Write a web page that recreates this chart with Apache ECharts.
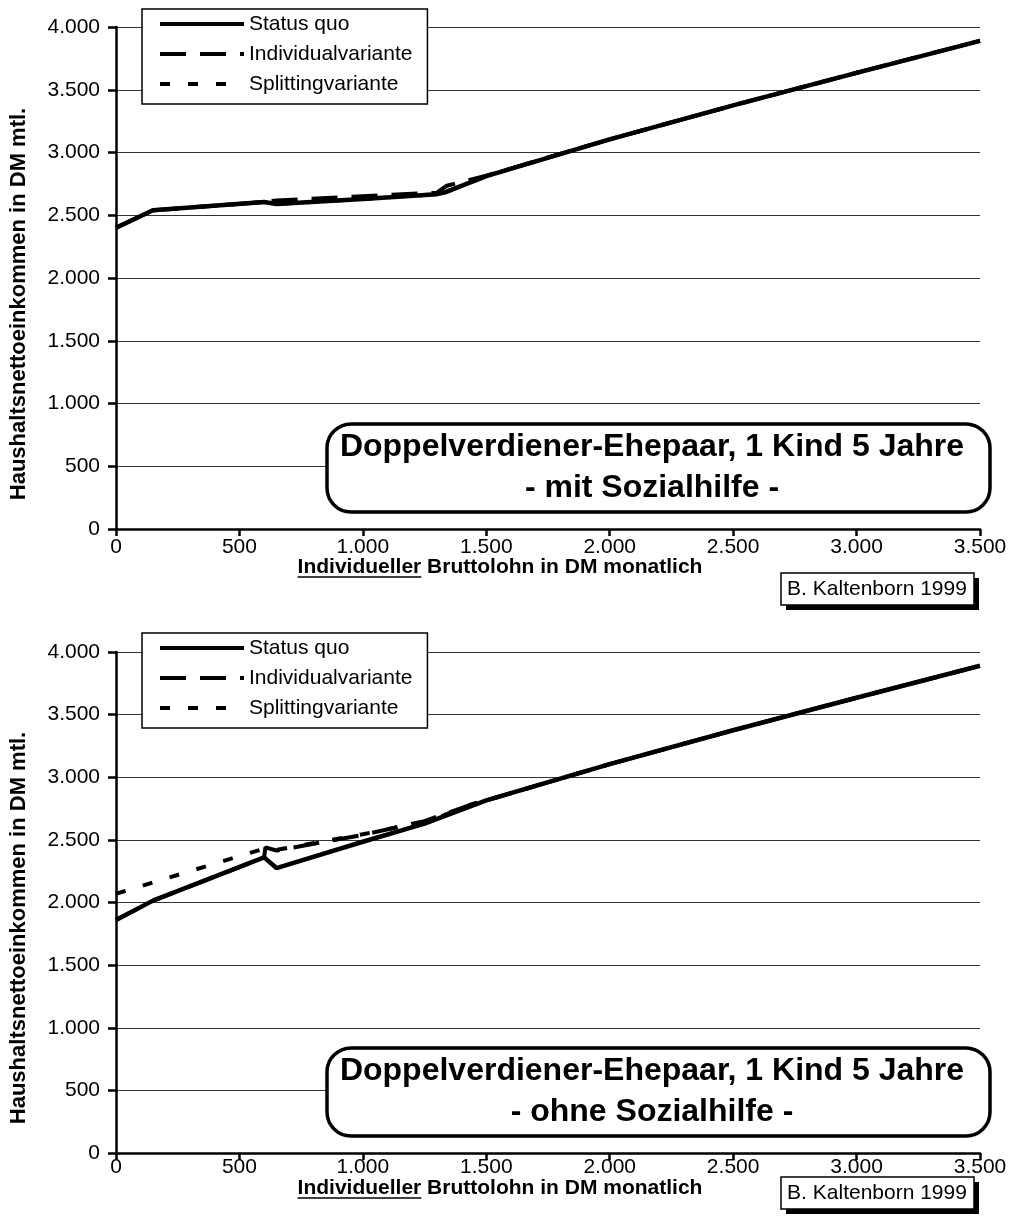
<!DOCTYPE html>
<html>
<head>
<meta charset="utf-8">
<script src="https://cdn.jsdelivr.net/npm/echarts@6/dist/echarts.min.js"></script>
<style>
  html, body { margin: 0; background: #fff; }
  #chart { width: 1010px; height: 1231px; }
</style>
</head>
<body>
<div id="chart"></div>
<script>
// Daten
const seriesNames = ["Status quo", "Individualvariante", "Splittingvariante"];
const xMin = 0, xMax = 3500, xStep = 500;
const yMin = 0, yMax = 4000, yStep = 500;

// oben: mit Sozialhilfe
const topStatusX = [0, 150, 600, 650, 1000, 1300, 1330, 1500, 2000, 2500, 3000, 3500];
const topStatusY = [2400, 2540, 2605, 2590, 2630, 2668, 2680, 2812, 3105, 3375, 3635, 3890];
const topIndivX = [0, 150, 600, 650, 1000, 1300, 1340, 1500, 2000, 2500, 3000, 3500];
const topIndivY = [2400, 2540, 2605, 2618, 2652, 2680, 2735, 2815, 3105, 3375, 3635, 3890];
const topSplitX = [0, 150, 600, 650, 1000, 1300, 1330, 1500, 2000, 2500, 3000, 3500];
const topSplitY = [2400, 2540, 2605, 2590, 2630, 2668, 2680, 2812, 3105, 3375, 3635, 3890];

// unten: ohne Sozialhilfe
const botStatusX = [0, 150, 600, 650, 1000, 1250, 1500, 2000, 2500, 3000, 3500];
const botStatusY = [1860, 2015, 2360, 2275, 2485, 2630, 2815, 3105, 3375, 3635, 3890];
const botIndivX = [0, 150, 600, 605, 650, 1000, 1250, 1450, 1500, 2000, 2500, 3000, 3500];
const botIndivY = [1860, 2015, 2360, 2440, 2415, 2540, 2650, 2790, 2815, 3105, 3375, 3635, 3890];
const botSplitX = [0, 600, 650, 1000, 1250, 1300, 1450, 1500, 2000, 2500, 3000, 3500];
const botSplitY = [2070, 2430, 2420, 2545, 2645, 2675, 2790, 2815, 3105, 3375, 3635, 3890];

const titleLine1 = "Doppelverdiener-Ehepaar, 1 Kind 5 Jahre";
const topSubtitle = "- mit Sozialhilfe -";
const botSubtitle = "- ohne Sozialhilfe -";
const yTitle = "Haushaltsnettoeinkommen in DM mtl.";
const xTitleBold = "Individueller";
const xTitleRest = " Bruttolohn in DM monatlich";
const sourceNote = "B. Kaltenborn 1999";

const FONT = "'Liberation Sans', Arial, sans-serif";

/** Tausenderpunkt */
const fmt = (v) => String(v).replace(/\B(?=(\d{3})+(?!\d))/g, ".");

const lineStyles = [
  { color: "#000", width: 4.5, type: "solid" },
  { color: "#000", width: 4, type: [26, 14] },
  { color: "#000", width: 4, type: [10, 18] },
];

const toPairs = (xs, ys) => xs.map((x, i) => [x, ys[i]]);

const makeSeries = (name, xs, ys, idx, k) => ({
  name,
  type: "line",
  xAxisIndex: idx,
  yAxisIndex: idx,
  data: toPairs(xs, ys),
  symbol: "none",
  lineStyle: lineStyles[k],
  itemStyle: { color: "#000" },
  z: 3 + k,
});

const grids = [
  { left: 116, top: 27, width: 864, height: 502 },
  { left: 116, top: 652, width: 864, height: 501 },
];

const makeX = (idx, margin) => ({
  type: "value",
  gridIndex: idx,
  min: xMin,
  max: xMax,
  interval: xStep,
  axisLine: { show: true, onZero: false, lineStyle: { color: "#000", width: 2.5 } },
  axisTick: { show: true, length: 7, lineStyle: { color: "#000", width: 2.5 } },
  axisLabel: {
    fontSize: 21, fontFamily: FONT, color: "#000", margin,
    showMinLabel: true, showMaxLabel: true, formatter: fmt,
  },
  splitLine: { show: false },
});

const makeY = (idx) => ({
  type: "value",
  gridIndex: idx,
  min: yMin,
  max: yMax,
  interval: yStep,
  axisLine: { show: true, lineStyle: { color: "#000", width: 2.5 } },
  axisTick: { show: true, length: 8, lineStyle: { color: "#000", width: 2.5 } },
  axisLabel: {
    fontSize: 21, fontFamily: FONT, color: "#000", margin: 16,
    showMinLabel: true, showMaxLabel: true, formatter: fmt,
  },
  splitLine: { show: true, lineStyle: { color: "#333", width: 1 } },
});

const makeLegend = (top) => ({
  orient: "vertical",
  left: 142,
  top,
  itemWidth: 84,
  itemHeight: 14,
  itemGap: 8,
  padding: [4, 15, 9, 16],
  backgroundColor: "#fff",
  borderColor: "#000",
  borderWidth: 1.5,
  borderRadius: 0,
  selectedMode: false,
  data: seriesNames,
  lineStyle: { width: 4 },
  // kein Punkt im Legendensymbol
  itemStyle: { opacity: 0, borderWidth: 0 },
  textStyle: { fontSize: 21, fontFamily: FONT, color: "#000", lineHeight: 22 },
});

// Textbreite für die Unterstreichung
const measure = (text, font) => {
  const ctx = document.createElement("canvas").getContext("2d");
  ctx.font = font;
  return ctx.measureText(text).width;
};

const xTitleFont = "bold 21px " + FONT;
const boldW = measure(xTitleBold, xTitleFont);
const fullW = measure(xTitleBold + xTitleRest, xTitleFont);

const makeAnnotations = (dy, subtitle, xTitleY, noteY, yTitleY) => {
  const xStart = 500 - fullW / 2;
  return [
    // Titelkasten
    {
      type: "rect", z: 100,
      shape: { x: 327, y: 424 + dy, width: 663, height: 88, r: 24 },
      style: { fill: "#fff", stroke: "#000", lineWidth: 3.5 },
    },
    {
      type: "text", z: 101, x: 652, y: 447 + dy,
      style: { text: titleLine1, font: "bold 32px " + FONT, fill: "#000", align: "center", verticalAlign: "middle" },
    },
    {
      type: "text", z: 101, x: 652, y: 488 + dy,
      style: { text: subtitle, font: "bold 32px " + FONT, fill: "#000", align: "center", verticalAlign: "middle" },
    },
    // x-Achsentitel
    {
      type: "text", z: 101, x: xStart, y: xTitleY,
      style: { text: xTitleBold + xTitleRest, font: xTitleFont, fill: "#000", align: "left", verticalAlign: "middle" },
    },
    {
      type: "line", z: 101,
      shape: { x1: xStart, y1: xTitleY + 10, x2: xStart + boldW, y2: xTitleY + 10 },
      style: { stroke: "#000", lineWidth: 1.5 },
    },
    // y-Achsentitel
    {
      type: "text", z: 101, x: 19, y: yTitleY, rotation: Math.PI / 2,
      style: { text: yTitle, font: "bold 22px " + FONT, fill: "#000", align: "center", verticalAlign: "middle" },
    },
    // Quelle
    {
      type: "rect", z: 100,
      shape: { x: 786, y: noteY + 5, width: 193, height: 32 },
      style: { fill: "#000" },
    },
    {
      type: "rect", z: 101,
      shape: { x: 781, y: noteY, width: 193, height: 32 },
      style: { fill: "#fff", stroke: "#000", lineWidth: 1.5 },
    },
    {
      type: "text", z: 102, x: 877, y: noteY + 16,
      style: { text: sourceNote, font: "21px " + FONT, fill: "#000", align: "center", verticalAlign: "middle" },
    },
  ];
};

const chart = echarts.init(document.getElementById("chart"), null, { renderer: "canvas" });

chart.setOption({
  animation: false,
  backgroundColor: "#fff",
  grid: grids,
  xAxis: [makeX(0, 8), makeX(1, 4)],
  yAxis: [makeY(0), makeY(1)],
  legend: [makeLegend(9), makeLegend(633)],
  series: [
    makeSeries(seriesNames[0], topStatusX, topStatusY, 0, 0),
    makeSeries(seriesNames[1], topIndivX, topIndivY, 0, 1),
    makeSeries(seriesNames[2], topSplitX, topSplitY, 0, 2),
    makeSeries(seriesNames[0], botStatusX, botStatusY, 1, 0),
    makeSeries(seriesNames[1], botIndivX, botIndivY, 1, 1),
    makeSeries(seriesNames[2], botSplitX, botSplitY, 1, 2),
  ],
  graphic: [
    ...makeAnnotations(0, topSubtitle, 567, 573, 304),
    ...makeAnnotations(624, botSubtitle, 1188, 1177, 928),
  ],
});

window.addEventListener("resize", () => chart.resize());
</script>
</body>
</html>
